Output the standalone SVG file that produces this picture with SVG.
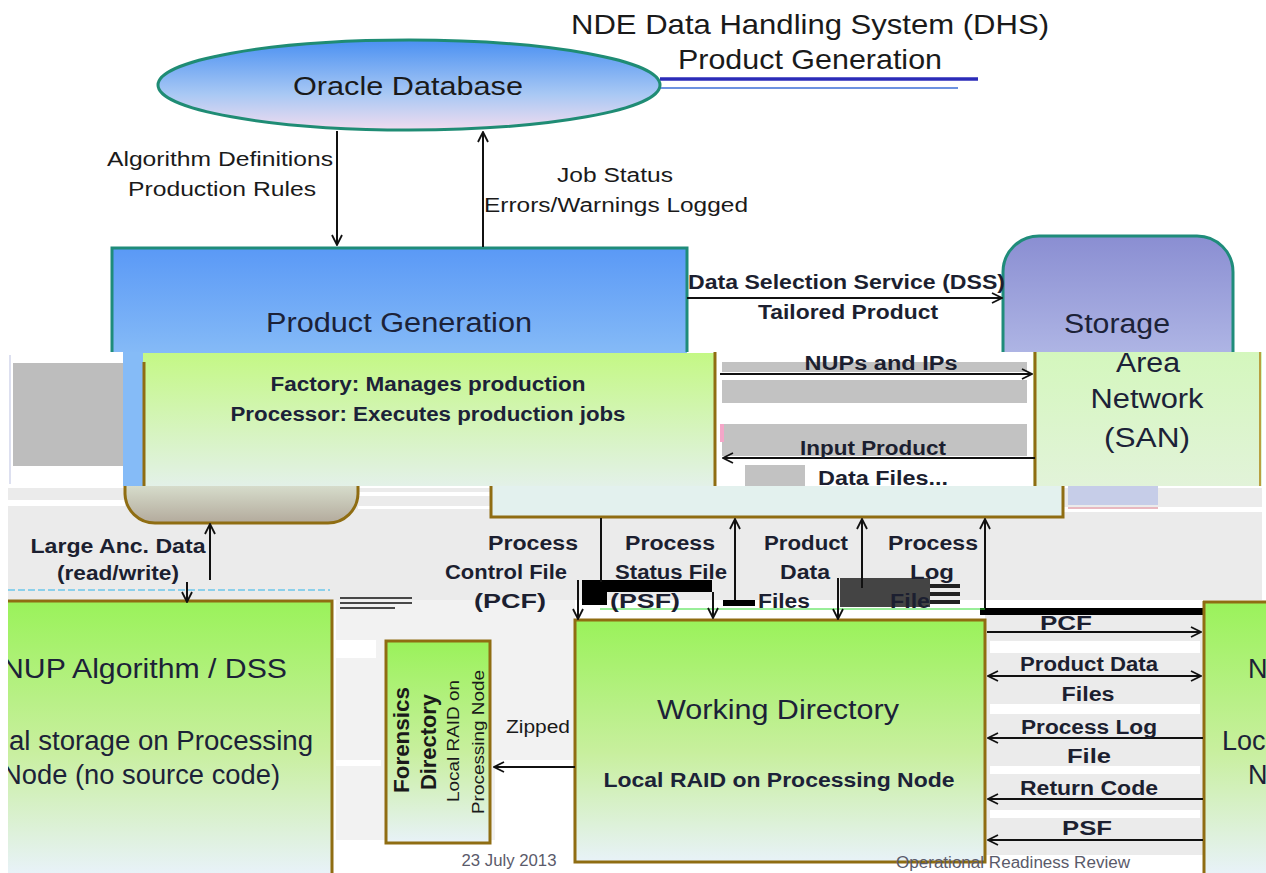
<svg xmlns="http://www.w3.org/2000/svg" width="1266" height="873" viewBox="0 0 1266 873">
  <style>
    .t{font-family:"Liberation Sans",Arial,sans-serif;fill:#1a1a1a}
    .lb{font-size:20px}
    .bd{font-weight:bold;fill:#1c1f30}
    .big{font-size:27px;fill:#1c2238}
    .mid{font-size:20px;fill:#1c2238;font-weight:bold}
    .ln{stroke:#111;stroke-width:2;fill:none}
    .brown{stroke:#8f6d12;stroke-width:3;fill:none}
    .gray{fill:#ebebeb}
    .grayd{fill:#c2c2c2}
    .note{font-family:"Liberation Sans",Arial,sans-serif;font-size:16px;fill:#5a5a6a}
  </style>
  <defs>
    <marker id="arr" viewBox="0 0 12 12" refX="11" refY="6" markerWidth="12" markerHeight="12" markerUnits="userSpaceOnUse" orient="auto-start-reverse">
      <path d="M1,1 L11,6 L1,11" fill="none" stroke="#111" stroke-width="1.8"/>
    </marker>
    <linearGradient id="gEll" x1="0" y1="0" x2="0" y2="1">
      <stop offset="0" stop-color="#4a90f2"/>
      <stop offset="0.6" stop-color="#a8c8f4"/>
      <stop offset="1" stop-color="#f0dcef"/>
    </linearGradient>
    <linearGradient id="gPG" x1="0" y1="0" x2="0" y2="1">
      <stop offset="0" stop-color="#5a99f6"/>
      <stop offset="1" stop-color="#86bbf7"/>
    </linearGradient>
    <linearGradient id="gSt" x1="0" y1="0" x2="0" y2="1">
      <stop offset="0" stop-color="#8a8ed2"/>
      <stop offset="1" stop-color="#c3cbef"/>
    </linearGradient>
    <linearGradient id="gFac" x1="0" y1="0" x2="0" y2="1">
      <stop offset="0" stop-color="#c4f885"/>
      <stop offset="1" stop-color="#e3f1e8"/>
    </linearGradient>
    <linearGradient id="gGr" x1="0" y1="0" x2="0" y2="1">
      <stop offset="0" stop-color="#9af25a"/>
      <stop offset="0.55" stop-color="#c8ef9e"/>
      <stop offset="1" stop-color="#e8f2f8"/>
    </linearGradient>
    <linearGradient id="gSan" x1="0" y1="0" x2="0" y2="1">
      <stop offset="0" stop-color="#d4f7bd"/>
      <stop offset="1" stop-color="#e2f3d9"/>
    </linearGradient>
    <linearGradient id="gCyl" x1="0" y1="0" x2="0" y2="1">
      <stop offset="0" stop-color="#d6dccb"/>
      <stop offset="1" stop-color="#b3aa9c"/>
    </linearGradient>
    <clipPath id="cNup"><rect x="8" y="601" width="325" height="272"/></clipPath>
    <clipPath id="cRt"><rect x="1203" y="601" width="63" height="272"/></clipPath>
  </defs>

  <rect width="1266" height="873" fill="#ffffff"/>

  <!-- title -->
  <g id="title">
    <text class="t" x="810" y="34" font-size="28" text-anchor="middle" fill="#2a2a2a" textLength="478" lengthAdjust="spacingAndGlyphs">NDE Data Handling System (DHS)</text>
    <text class="t" x="810" y="69" font-size="28" text-anchor="middle" fill="#2a2a2a" textLength="264" lengthAdjust="spacingAndGlyphs">Product Generation</text>
    <line x1="660" y1="79" x2="978" y2="79" stroke="#2b2bb8" stroke-width="3.5"/>
    <line x1="660" y1="88" x2="958" y2="88" stroke="#3d6fd6" stroke-width="1.5"/>
  </g>

  <!-- background glitch areas -->
  <rect class="gray" x="8" y="488" width="1254" height="112"/>
  <rect fill="#ffffff" x="8" y="500" width="117" height="6"/>
  <rect fill="#ffffff" x="358" y="492" width="132" height="4"/>
  <rect fill="#ffffff" x="358" y="506" width="132" height="3"/>
  <rect fill="#ffffff" x="1063" y="507" width="199" height="5"/>
  <rect fill="#f2f2f2" x="336" y="600" width="239" height="240"/>
  <rect fill="#ffffff" x="336" y="640" width="40" height="18"/>
  <rect fill="#ffffff" x="495" y="760" width="78" height="80"/>
  <rect fill="#ffffff" x="336" y="760" width="45" height="6"/>
  <rect class="gray" x="985" y="615" width="218" height="240"/>
  <rect fill="#ffffff" x="990" y="641" width="210" height="12"/>
  <rect fill="#ffffff" x="990" y="704" width="210" height="10"/>
  <rect fill="#ffffff" x="990" y="766" width="210" height="8"/>
  <rect fill="#ffffff" x="990" y="810" width="210" height="8"/>

  <!-- Oracle Database -->
  <g id="oracle">
    <ellipse cx="409" cy="85" rx="251" ry="45" fill="url(#gEll)" stroke="#1f8c74" stroke-width="3"/>
    <text class="t" x="408" y="95" font-size="26" text-anchor="middle" fill="#1c2238" textLength="230" lengthAdjust="spacingAndGlyphs">Oracle Database</text>
  </g>

  <!-- Product Generation -->
  <g id="product-generation">
    <rect x="112" y="248" width="575" height="108" fill="url(#gPG)"/>
    <path d="M112,356 V248 H687 V352" fill="none" stroke="#1f8c7a" stroke-width="3"/>
    <rect x="123" y="352" width="20" height="134" fill="#85bbf7"/>
    <text class="t big" x="399" y="332" font-size="28" text-anchor="middle" textLength="266" lengthAdjust="spacingAndGlyphs">Product Generation</text>
  </g>

  <!-- Storage -->
  <g id="storage">
    <path d="M1003,420 V272 A36,36 0 0 1 1039,236 H1197 A36,36 0 0 1 1233,272 V420 Z" fill="url(#gSt)"/>
    <path d="M1003,420 V272 A36,36 0 0 1 1039,236 H1197 A36,36 0 0 1 1233,272 V420" fill="none" stroke="#1f8c7a" stroke-width="3"/>
    <text class="t big" x="1117" y="333" text-anchor="middle" textLength="106" lengthAdjust="spacingAndGlyphs">Storage</text>
    <rect x="1068" y="486" width="90" height="19" fill="#c6cde8"/>
    <line x1="1068" y1="508" x2="1158" y2="508" stroke="#e8b8c0" stroke-width="2"/>
  </g>

  <!-- glitch band top -->
  <rect x="8" y="352" width="115" height="134" fill="#ffffff"/>
  <rect x="13" y="363" width="110" height="103" fill="#bdbdbd"/>
  <line x1="10" y1="355" x2="10" y2="484" stroke="#dde0f0" stroke-width="2"/>
  <rect x="715" y="352" width="318" height="134" fill="#ffffff"/>
  <rect class="grayd" x="722" y="362" width="305" height="10"/>
  <rect class="grayd" x="722" y="380" width="305" height="23"/>
  <rect class="grayd" x="722" y="424" width="305" height="32"/>
  <rect class="grayd" x="745" y="465" width="60" height="21"/>
  <rect fill="#f4a6c8" x="720" y="424" width="4" height="18"/>

  <!-- Factory / Processor -->
  <g id="factory">
    <rect x="143" y="353" width="572" height="133" fill="url(#gFac)"/>
    <line x1="144" y1="362" x2="144" y2="486" class="brown"/>
    <line x1="715" y1="352" x2="715" y2="486" class="brown"/>
    <path d="M125,486 V494 A30,30 0 0 0 155,523 H328 A30,30 0 0 0 358,494 V486 Z" fill="url(#gCyl)"/>
    <path d="M125,486 V494 A30,30 0 0 0 155,523 H328 A30,30 0 0 0 358,494 V486" class="brown"/>
    <rect x="491" y="486" width="572" height="32" fill="#e3f1ee"/>
    <path d="M491,486 V517 H1063 V486" class="brown"/>
    <text class="t mid" x="428" y="391" text-anchor="middle" textLength="315" lengthAdjust="spacingAndGlyphs">Factory: Manages production</text>
    <text class="t mid" x="428" y="421" text-anchor="middle" textLength="395" lengthAdjust="spacingAndGlyphs">Processor: Executes production jobs</text>
  </g>

  <!-- SAN -->
  <g id="san">
    <rect x="1033" y="352" width="229" height="134" fill="url(#gSan)"/>
    <line x1="1035" y1="352" x2="1035" y2="486" class="brown"/>
    <line x1="1260" y1="352" x2="1260" y2="486" stroke="#b8a040" stroke-width="2"/>
    <text class="t big" x="1148" y="372" text-anchor="middle" textLength="64" lengthAdjust="spacingAndGlyphs">Area</text>
    <text class="t big" x="1147" y="408" text-anchor="middle" textLength="113" lengthAdjust="spacingAndGlyphs">Network</text>
    <text class="t big" x="1147" y="447" text-anchor="middle" textLength="86" lengthAdjust="spacingAndGlyphs">(SAN)</text>
  </g>

  <!-- glitch black bars -->
  <rect x="582" y="580" width="130" height="12" fill="#000"/>
  <rect x="582" y="592" width="25" height="13" fill="#000"/>
  <rect x="723" y="600" width="32" height="6" fill="#000"/>
  <rect x="840" y="578" width="90" height="29" fill="#444"/>
  <rect x="930" y="584" width="30" height="4" fill="#222"/>
  <rect x="930" y="592" width="30" height="4" fill="#222"/>
  <rect x="930" y="600" width="30" height="4" fill="#222"/>
  <rect x="980" y="608" width="223" height="7" fill="#000"/>
  <line x1="600" y1="609" x2="985" y2="609" stroke="#33dd33" stroke-width="1"/>
  <line x1="340" y1="598" x2="412" y2="598" stroke="#111" stroke-width="1.5"/>
  <line x1="340" y1="603" x2="412" y2="603" stroke="#111" stroke-width="1.5"/>
  <line x1="340" y1="608" x2="395" y2="608" stroke="#111" stroke-width="1.5"/>
  <line x1="8" y1="590" x2="330" y2="590" stroke="#6cc8ec" stroke-width="1.5" stroke-dasharray="7 3"/>

  <!-- NUP Algorithm / DSS -->
  <g id="nup-algorithm">
    <rect x="8" y="601" width="325" height="272" fill="url(#gGr)"/>
    <path d="M8,601 H332 V873" class="brown"/>
    <g clip-path="url(#cNup)">
      <text class="t big" x="2" y="678" textLength="285" lengthAdjust="spacingAndGlyphs">NUP Algorithm  / DSS</text>
      <text class="t big" x="9" y="750" textLength="304" lengthAdjust="spacingAndGlyphs">al storage on Processing</text>
      <text class="t big" x="2" y="784" textLength="278" lengthAdjust="spacingAndGlyphs">Node (no source code)</text>
    </g>
  </g>

  <!-- Forensics -->
  <g id="forensics">
    <rect x="386" y="641" width="104" height="202" fill="url(#gGr)" stroke="#8f6d12" stroke-width="3"/>
    <text class="t" transform="translate(409,740) rotate(-90)" font-size="22" font-weight="bold" text-anchor="middle" fill="#1c2238" textLength="106" lengthAdjust="spacingAndGlyphs">Forensics</text>
    <text class="t" transform="translate(436,742) rotate(-90)" font-size="22" font-weight="bold" text-anchor="middle" fill="#1c2238" textLength="96" lengthAdjust="spacingAndGlyphs">Directory</text>
    <text class="t" transform="translate(459,741) rotate(-90)" font-size="17" text-anchor="middle" fill="#1c2238" textLength="122" lengthAdjust="spacingAndGlyphs">Local RAID on</text>
    <text class="t" transform="translate(484,742) rotate(-90)" font-size="17" text-anchor="middle" fill="#1c2238" textLength="144" lengthAdjust="spacingAndGlyphs">Processing Node</text>
  </g>

  <!-- Working Directory -->
  <g id="working-directory">
    <rect x="575" y="620" width="410" height="242" fill="url(#gGr)" stroke="#8f6d12" stroke-width="3"/>
    <text class="t big" x="778" y="719" font-size="28" text-anchor="middle" textLength="242" lengthAdjust="spacingAndGlyphs">Working Directory</text>
    <text class="t mid" x="779" y="787" text-anchor="middle" textLength="351" lengthAdjust="spacingAndGlyphs">Local RAID on Processing Node</text>
  </g>

  <!-- right node -->
  <g id="right-node">
    <rect x="1203" y="601" width="63" height="272" fill="url(#gGr)"/>
    <line x1="1204" y1="601" x2="1204" y2="873" class="brown"/>
    <line x1="1203" y1="602" x2="1266" y2="602" class="brown"/>
    <g clip-path="url(#cRt)">
      <text class="t big" x="1248" y="678">N</text>
      <text class="t big" x="1222" y="750">Loc</text>
      <text class="t big" x="1248" y="784">N</text>
    </g>
  </g>

  <!-- footer -->
  <text class="note" x="509" y="866" text-anchor="middle" textLength="95" lengthAdjust="spacingAndGlyphs">23 July 2013</text>
  <text class="note" x="1013" y="868" text-anchor="middle" textLength="234" lengthAdjust="spacingAndGlyphs">Operational Readiness Review</text>

  <!-- connectors -->
  <g id="connectors">
    <line class="ln" x1="337" y1="131" x2="337" y2="245" marker-end="url(#arr)"/>
    <line class="ln" x1="483" y1="247" x2="483" y2="132" marker-end="url(#arr)"/>
    <line class="ln" x1="687" y1="298" x2="1002" y2="298" marker-end="url(#arr)"/>
    <line class="ln" x1="720" y1="374" x2="1032" y2="374" marker-end="url(#arr)"/>
    <line class="ln" x1="1035" y1="458" x2="723" y2="458" marker-end="url(#arr)"/>
    <line class="ln" x1="210" y1="580" x2="210" y2="524" marker-end="url(#arr)"/>
    <line class="ln" x1="187" y1="582" x2="187" y2="602" marker-end="url(#arr)"/>
    <line class="ln" x1="601" y1="518" x2="601" y2="582"/>
    <line class="ln" x1="578" y1="580" x2="578" y2="619" marker-end="url(#arr)"/>
    <line class="ln" x1="735" y1="600" x2="735" y2="519" marker-end="url(#arr)"/>
    <line class="ln" x1="713" y1="592" x2="713" y2="618" marker-end="url(#arr)"/>
    <line class="ln" x1="862" y1="588" x2="862" y2="519" marker-end="url(#arr)"/>
    <line class="ln" x1="838" y1="578" x2="838" y2="619" marker-end="url(#arr)"/>
    <line class="ln" x1="985" y1="608" x2="985" y2="519" marker-end="url(#arr)"/>
    <line class="ln" x1="987" y1="632" x2="1201" y2="632" marker-end="url(#arr)"/>
    <line class="ln" x1="988" y1="676" x2="1201" y2="676" marker-start="url(#arr)" marker-end="url(#arr)"/>
    <line class="ln" x1="1203" y1="738" x2="988" y2="738" marker-end="url(#arr)"/>
    <line class="ln" x1="1203" y1="799" x2="988" y2="799" marker-end="url(#arr)"/>
    <line class="ln" x1="1203" y1="840" x2="988" y2="840" marker-end="url(#arr)"/>
    <line class="ln" x1="575" y1="767" x2="494" y2="767" marker-end="url(#arr)"/>
  </g>

  <!-- connector labels -->
  <g id="labels">
    <text class="t lb" x="333" y="166" text-anchor="end" textLength="226" lengthAdjust="spacingAndGlyphs">Algorithm Definitions</text>
    <text class="t lb" x="222" y="196" text-anchor="middle" textLength="188" lengthAdjust="spacingAndGlyphs">Production Rules</text>
    <text class="t lb" x="615" y="182" text-anchor="middle" textLength="116" lengthAdjust="spacingAndGlyphs">Job Status</text>
    <text class="t lb" x="616" y="212" text-anchor="middle" textLength="264" lengthAdjust="spacingAndGlyphs">Errors/Warnings Logged</text>
    <text class="t lb bd" x="688" y="289" textLength="317" lengthAdjust="spacingAndGlyphs">Data Selection Service (DSS)</text>
    <text class="t lb bd" x="848" y="319" text-anchor="middle" textLength="180" lengthAdjust="spacingAndGlyphs">Tailored Product</text>
    <text class="t lb bd" x="881" y="370" text-anchor="middle" textLength="153" lengthAdjust="spacingAndGlyphs">NUPs and IPs</text>
    <text class="t lb bd" x="873" y="455" text-anchor="middle" textLength="146" lengthAdjust="spacingAndGlyphs">Input Product</text>
    <text class="t lb bd" x="883" y="485" text-anchor="middle" textLength="130" lengthAdjust="spacingAndGlyphs">Data Files...</text>
    <text class="t lb bd" x="118" y="553" text-anchor="middle" textLength="175" lengthAdjust="spacingAndGlyphs">Large Anc. Data</text>
    <text class="t lb bd" x="118" y="580" text-anchor="middle" textLength="122" lengthAdjust="spacingAndGlyphs">(read/write)</text>
    <text class="t lb bd" x="533" y="550" text-anchor="middle" textLength="90" lengthAdjust="spacingAndGlyphs">Process</text>
    <text class="t lb bd" x="506" y="579" text-anchor="middle" textLength="122" lengthAdjust="spacingAndGlyphs">Control File</text>
    <text class="t lb bd" x="510" y="608" text-anchor="middle" textLength="72" lengthAdjust="spacingAndGlyphs">(PCF)</text>
    <text class="t lb bd" x="670" y="550" text-anchor="middle" textLength="90" lengthAdjust="spacingAndGlyphs">Process</text>
    <text class="t lb bd" x="671" y="579" text-anchor="middle" textLength="112" lengthAdjust="spacingAndGlyphs">Status File</text>
    <text class="t lb bd" x="645" y="608" text-anchor="middle" textLength="70" lengthAdjust="spacingAndGlyphs">(PSF)</text>
    <text class="t lb bd" x="806" y="550" text-anchor="middle" textLength="84" lengthAdjust="spacingAndGlyphs">Product</text>
    <text class="t lb bd" x="805" y="579" text-anchor="middle" textLength="50" lengthAdjust="spacingAndGlyphs">Data</text>
    <text class="t lb bd" x="784" y="608" text-anchor="middle" textLength="52" lengthAdjust="spacingAndGlyphs">Files</text>
    <text class="t lb bd" x="933" y="550" text-anchor="middle" textLength="90" lengthAdjust="spacingAndGlyphs">Process</text>
    <text class="t lb bd" x="932" y="579" text-anchor="middle" textLength="44" lengthAdjust="spacingAndGlyphs">Log</text>
    <text class="t lb bd" x="910" y="608" text-anchor="middle" textLength="40" lengthAdjust="spacingAndGlyphs">File</text>
    <text class="t lb bd" x="1066" y="630" text-anchor="middle" textLength="52" lengthAdjust="spacingAndGlyphs">PCF</text>
    <text class="t lb bd" x="1089" y="671" text-anchor="middle" textLength="138" lengthAdjust="spacingAndGlyphs">Product Data</text>
    <text class="t lb bd" x="1088" y="701" text-anchor="middle" textLength="53" lengthAdjust="spacingAndGlyphs">Files</text>
    <text class="t lb bd" x="1089" y="734" text-anchor="middle" textLength="136" lengthAdjust="spacingAndGlyphs">Process Log</text>
    <text class="t lb bd" x="1089" y="763" text-anchor="middle" textLength="44" lengthAdjust="spacingAndGlyphs">File</text>
    <text class="t lb bd" x="1089" y="795" text-anchor="middle" textLength="138" lengthAdjust="spacingAndGlyphs">Return Code</text>
    <text class="t lb bd" x="1087" y="835" text-anchor="middle" textLength="50" lengthAdjust="spacingAndGlyphs">PSF</text>
    <text class="t" x="538" y="733" font-size="18" text-anchor="middle" fill="#4a4a5a" textLength="64" lengthAdjust="spacingAndGlyphs">Zipped</text>
  </g>
</svg>
